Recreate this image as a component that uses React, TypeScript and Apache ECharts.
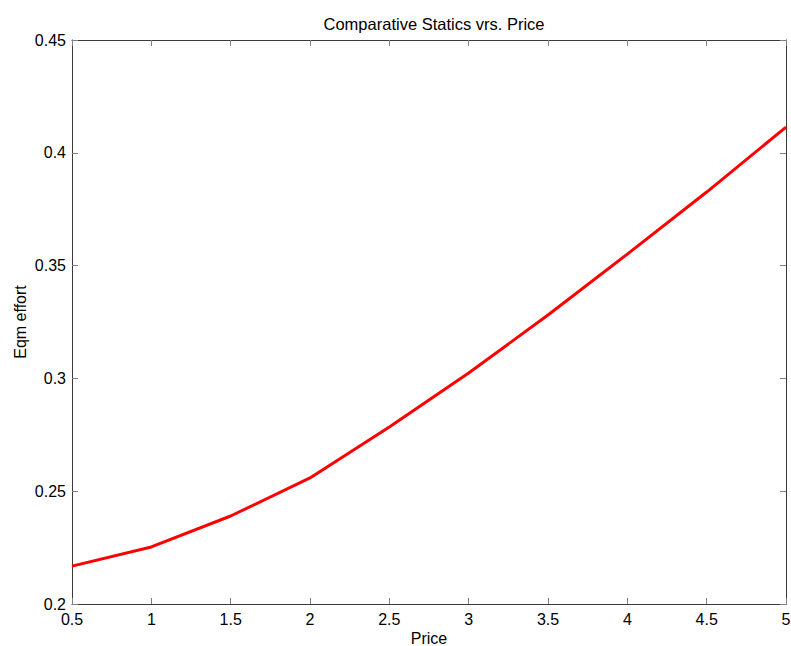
import React, { useEffect, useRef } from "react";
import * as echarts from "echarts";

const price = [0.5, 1, 1.5, 2, 2.5, 3, 3.5, 4, 4.5, 5];
const effort = [0.2168, 0.2253, 0.239, 0.2559, 0.2785, 0.3024, 0.3281, 0.3551, 0.3826, 0.4114];

const FONT = "'Liberation Sans', Arial, sans-serif";
const AXIS_COLOR = "#3a3a3a";
const FS = 16;

export default function App() {
  const ref = useRef<HTMLDivElement>(null);

  useEffect(() => {
    document.body.style.margin = "0";
    const chart = echarts.init(ref.current!, null, { renderer: "svg" });
    const tickStyle = { show: true, inside: true, length: 6, lineStyle: { color: "#808080", width: 1 } };
    const lineStyle = { color: AXIS_COLOR, width: 1 };
    chart.setOption({
      animation: false,
      backgroundColor: "#ffffff",
      textStyle: { fontFamily: FONT },
      title: {
        text: "Comparative Statics vrs. Price",
        left: 429,
        textAlign: "center",
        top: 10,
        textStyle: { fontFamily: FONT, fontSize: 16.5, fontWeight: "normal", color: "#000" },
      },
      grid: { left: 72, right: 5, top: 40, bottom: 42, containLabel: false, outerBoundsMode: "none" },
      xAxis: [
        {
          type: "value",
          min: 0.5,
          max: 5,
          interval: 0.5,
          position: "bottom",
          name: "Price",
          nameLocation: "middle",
          nameGap: 26,
          nameMoveOverlap: false,
          nameTextStyle: { fontFamily: FONT, fontSize: FS, color: "#000", lineHeight: 16 },
          axisLine: { show: true, lineStyle },
          axisTick: tickStyle,
          axisLabel: { fontFamily: FONT, fontSize: FS, color: "#000", margin: 7 },
          splitLine: { show: false },
        },
        {
          type: "value",
          min: 0.5,
          max: 5,
          interval: 0.5,
          position: "top",
          axisLine: { show: true, lineStyle },
          axisTick: tickStyle,
          axisLabel: { show: false },
          splitLine: { show: false },
        },
      ],
      yAxis: [
        {
          type: "value",
          min: 0.2,
          max: 0.45,
          interval: 0.05,
          position: "left",
          name: "Eqm effort",
          nameLocation: "middle",
          nameGap: 44,
          nameMoveOverlap: false,
          nameTextStyle: { fontFamily: FONT, fontSize: FS, color: "#000", lineHeight: 16 },
          axisLine: { show: true, lineStyle },
          axisTick: tickStyle,
          axisLabel: { fontFamily: FONT, fontSize: FS, color: "#000", margin: 6 },
          splitLine: { show: false },
        },
        {
          type: "value",
          min: 0.2,
          max: 0.45,
          interval: 0.05,
          position: "right",
          axisLine: { show: true, lineStyle },
          axisTick: tickStyle,
          axisLabel: { show: false },
          splitLine: { show: false },
        },
      ],
      series: [
        {
          type: "line",
          data: price.map((p, i) => [p, effort[i]]),
          showSymbol: false,
          symbol: "none",
          lineStyle: { color: "#ff0000", width: 3 },
          xAxisIndex: 0,
          yAxisIndex: 0,
        },
      ],
    });
    return () => chart.dispose();
  }, []);

  return <div ref={ref} style={{ width: 791, height: 646 }} />;
}
